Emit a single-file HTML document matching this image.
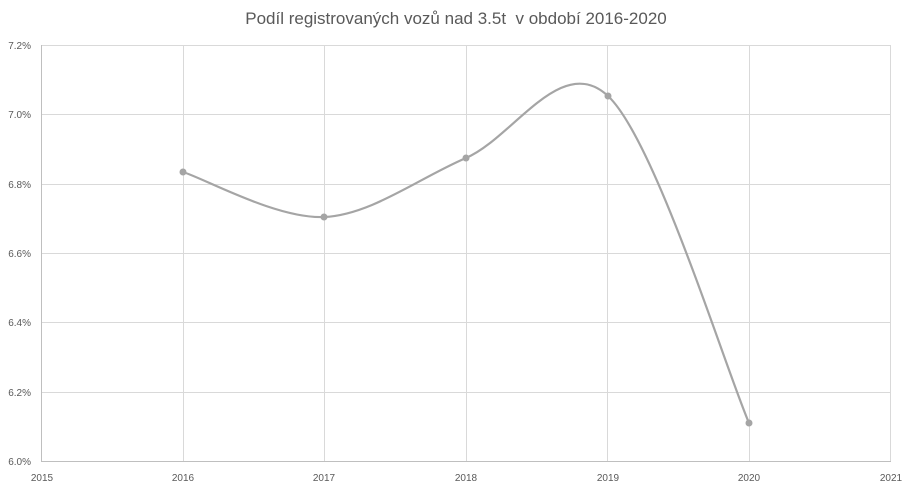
<!DOCTYPE html>
<html><head><meta charset="utf-8"><style>
html,body{margin:0;padding:0;background:#fff;}
svg{display:block;font-family:"Liberation Sans",sans-serif;}
</style></head><body>
<svg width="912" height="490" viewBox="0 0 912 490" xmlns="http://www.w3.org/2000/svg">
<rect width="912" height="490" fill="#fff"/>
<text x="456" y="24" text-anchor="middle" font-size="17" fill="#595959">Podíl registrovaných vozů nad 3.5t&#160; v období 2016-2020</text>
<g stroke="#d9d9d9" stroke-width="1">
<line x1="41.5" y1="45.5" x2="891" y2="45.5"/>
<line x1="41.5" y1="114.5" x2="891" y2="114.5"/>
<line x1="41.5" y1="184.5" x2="891" y2="184.5"/>
<line x1="41.5" y1="253.5" x2="891" y2="253.5"/>
<line x1="41.5" y1="322.5" x2="891" y2="322.5"/>
<line x1="41.5" y1="392.5" x2="891" y2="392.5"/>
<line x1="183.5" y1="45" x2="183.5" y2="461"/>
<line x1="324.5" y1="45" x2="324.5" y2="461"/>
<line x1="466.5" y1="45" x2="466.5" y2="461"/>
<line x1="607.5" y1="45" x2="607.5" y2="461"/>
<line x1="749.5" y1="45" x2="749.5" y2="461"/>
<line x1="890.5" y1="45" x2="890.5" y2="461"/>
</g>
<g stroke="#bfbfbf" stroke-width="1">
<line x1="41.5" y1="45" x2="41.5" y2="461.5"/>
<line x1="41" y1="461.5" x2="891" y2="461.5"/>
</g>
<g font-size="10" fill="#595959" text-anchor="end">
<text x="31" y="49">7.2%</text>
<text x="31" y="118">7.0%</text>
<text x="31" y="188">6.8%</text>
<text x="31" y="257">6.6%</text>
<text x="31" y="326">6.4%</text>
<text x="31" y="396">6.2%</text>
<text x="31" y="465">6.0%</text>
</g>
<g font-size="10" fill="#595959" text-anchor="middle">
<text x="42" y="481">2015</text>
<text x="183" y="481">2016</text>
<text x="324" y="481">2017</text>
<text x="466" y="481">2018</text>
<text x="608" y="481">2019</text>
<text x="749" y="481">2020</text>
<text x="891" y="481">2021</text>
</g>
<path d="M183,172 C206.5,179.5 277,219 324,217 C371,215 419,178 466,158 C513,138 561,52 608,96 C655,140 725.5,368.5 749,423" fill="none" stroke="#a5a5a5" stroke-width="2.2"/>
<g fill="#a5a5a5">
<circle cx="183" cy="172" r="3.5"/>
<circle cx="324" cy="217" r="3.5"/>
<circle cx="466" cy="158" r="3.5"/>
<circle cx="608" cy="96" r="3.5"/>
<circle cx="749" cy="423" r="3.5"/>
</g>
</svg>
</body></html>
